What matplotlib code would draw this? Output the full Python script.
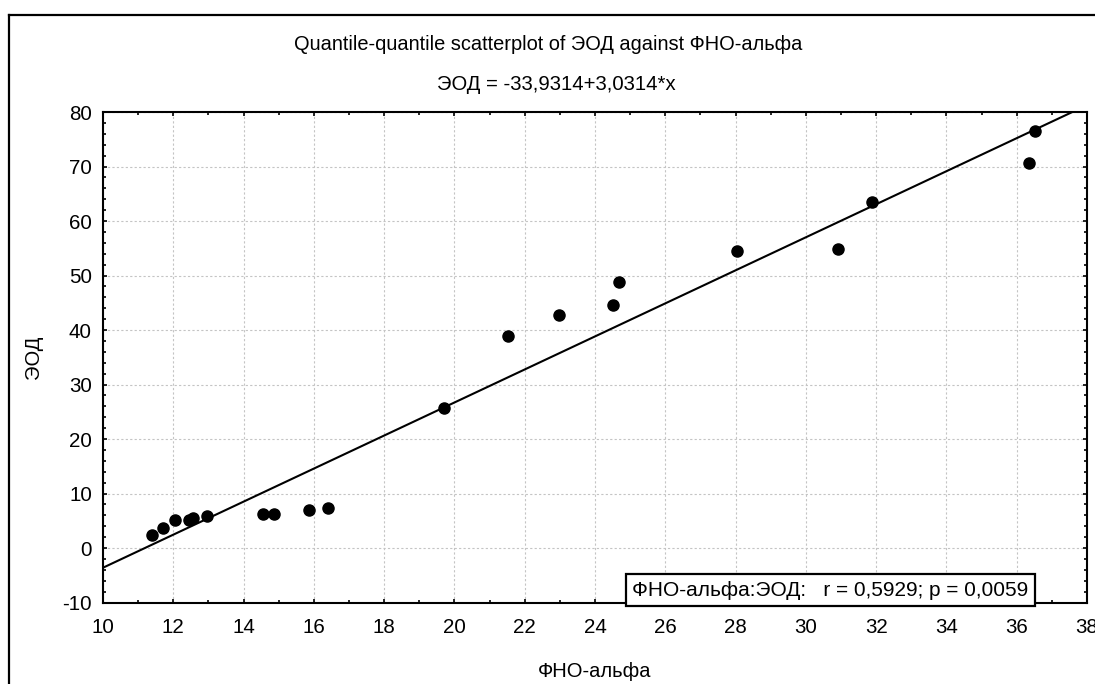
"""
Q-Q диаграмма: ЭОД против ФНО-альфа (перерисовка графика из Statistica)
"""
import matplotlib
matplotlib.use("Agg")
import matplotlib.pyplot as plt
from matplotlib.lines import Line2D
from matplotlib.ticker import MultipleLocator

plt.rcParams["font.family"] = ["Liberation Sans", "DejaVu Sans"]
plt.rcParams["axes.unicode_minus"] = False  # "-10" с обычным дефисом

# ===== данные (квантили) =====
fno_alpha = [11.39, 11.72, 12.06, 12.46, 12.57, 12.95, 14.54, 14.87, 15.87, 16.41,
             19.71, 21.53, 22.97, 24.52, 24.67, 28.04, 30.91, 31.89, 36.36, 36.53]
eod = [2.3, 3.7, 5.1, 5.1, 5.55, 5.9, 6.2, 6.2, 6.96, 7.27,
       25.76, 38.94, 42.84, 44.6, 48.88, 54.5, 54.86, 63.4, 70.6, 76.52]

# линия регрессии: ЭОД = -33,9314 + 3,0314*x
intercept = -33.9314
slope = 3.0314

x_ticks = list(range(10, 39, 2))
y_ticks = list(range(-10, 81, 10))

title = "Quantile-quantile scatterplot of ЭОД against ФНО-альфа"
subtitle = "ЭОД = -33,9314+3,0314*x"
stat_text = "ФНО-альфа:ЭОД:   r = 0,5929; p = 0,0059"

W, H = 1095, 684
fig = plt.figure(figsize=(W / 100, H / 100), dpi=100)
ax = fig.add_axes([103 / W, 1 - 602.5 / H, 984 / W, 490.5 / H])

ax.set_xlim(10, 38)
ax.set_ylim(-10, 80)
ax.set_xticks(x_ticks)
ax.set_yticks(y_ticks)
ax.xaxis.set_minor_locator(MultipleLocator(1))
ax.yaxis.set_minor_locator(MultipleLocator(2))
ax.tick_params(which="both", direction="in", top=True, right=True,
               width=1.2, labelsize=14.8)
ax.tick_params(which="major", length=3)
ax.tick_params(which="minor", length=2.2)
ax.tick_params(axis="x", pad=11.5)
ax.tick_params(axis="y", pad=8)
for sp in ax.spines.values():
    sp.set_linewidth(1.5)

ax.grid(True, which="major", color="#c4c4c4", linestyle=(0, (2, 2)), linewidth=0.8)
ax.set_axisbelow(True)

ax.axline((0, intercept), slope=slope, color="black", linewidth=1.5, zorder=2)
ax.scatter(fno_alpha, eod, s=64, color="black", zorder=3, clip_on=False)

ax.set_xlabel("ФНО-альфа", fontsize=14.5, labelpad=18)
ax.set_ylabel("ЭОД", fontsize=14.5, labelpad=14)

fig.text(548 / W, 1 - 45 / H, title, ha="center", va="center", fontsize=14.4)
fig.text(556 / W, 1 - 85 / H, subtitle, ha="center", va="center", fontsize=14.6)

# плашка со статистикой
fig.text(830.5 / W, 1 - 590 / H, stat_text, ha="center", va="center", fontsize=15,
         zorder=10,
         bbox=dict(boxstyle="square,pad=0.3", facecolor="white",
                   edgecolor="black", linewidth=1.6))

# рамка всего графика (левая и верхняя линии)
fx, fy = 9 / W, 1 - 15 / H
fig.add_artist(Line2D([fx, fx], [0, fy], color="black", linewidth=1.6))
fig.add_artist(Line2D([fx, 1], [fy, fy], color="black", linewidth=1.6))

plt.savefig("out.png", dpi=100)
